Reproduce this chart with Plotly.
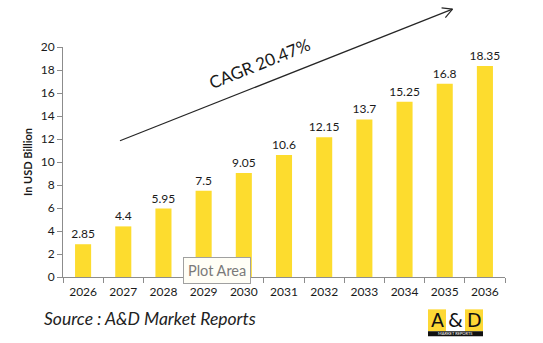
import plotly.graph_objects as go
import math

years = ["2026", "2027", "2028", "2029", "2030", "2031", "2032", "2033", "2034", "2035", "2036"]
values = [2.85, 4.4, 5.95, 7.5, 9.05, 10.6, 12.15, 13.7, 15.25, 16.8, 18.35]
labels = ["2.85", "4.4", "5.95", "7.5", "9.05", "10.6", "12.15", "13.7", "15.25", "16.8", "18.35"]

W, H = 543, 343
L, R, T, B = 63, 38, 46.5, 65.5
PW, PH = W - L - R, H - T - B
FONT = "Lato, Open Sans, sans-serif"
YELLOW = "#FDDC2E"
AXIS = "#8c8c8c"


def px(x):
    return (x - L) / PW


def py(y):
    return (H - B - y) / PH


fig = go.Figure()
fig.add_trace(go.Bar(
    x=years, y=values, text=labels, textposition="outside", constraintext="none",
    textfont=dict(family=FONT, size=12, color="#1a1a1a"),
    marker=dict(color=YELLOW, line=dict(width=0)),
    cliponaxis=False, hoverinfo="skip",
))

shapes = []
# arrow
x0, y0, x1, y1 = 120, 140.7, 452.5, 8.5
shapes.append(dict(type="line", xref="paper", yref="paper", x0=px(x0), y0=py(y0), x1=px(x1), y1=py(y1),
                   line=dict(color="#262626", width=1.2)))
dx, dy = x0 - x1, y0 - y1
d = math.hypot(dx, dy)
ux, uy = dx / d, dy / d
for s in (1, -1):
    a = math.radians(28 * s)
    wx = ux * math.cos(a) - uy * math.sin(a)
    wy = ux * math.sin(a) + uy * math.cos(a)
    shapes.append(dict(type="line", xref="paper", yref="paper", x0=px(x1), y0=py(y1),
                       x1=px(x1 + 11 * wx), y1=py(y1 + 11 * wy), line=dict(color="#262626", width=1.2)))

# logo
lx0, lx1, ly0, ly1 = 428, 483, 310, 337
shapes.append(dict(type="rect", xref="paper", yref="paper", x0=px(lx0), x1=px(lx0 + 18), y0=py(ly0), y1=py(ly1 - 5),
                   fillcolor="#FDD835", line=dict(width=0), layer="below"))
shapes.append(dict(type="rect", xref="paper", yref="paper", x0=px(lx1 - 18), x1=px(lx1), y0=py(ly0), y1=py(ly1 - 5),
                   fillcolor="#FDD835", line=dict(width=0), layer="below"))
shapes.append(dict(type="rect", xref="paper", yref="paper", x0=px(lx0), x1=px(lx1), y0=py(ly1 - 5), y1=py(ly1),
                   fillcolor="#111111", line=dict(width=0), layer="below"))


def ann(text, x, y, font, **kw):
    d = dict(text=text, xref="paper", yref="paper", x=px(x), y=py(y), showarrow=False,
             xanchor="center", yanchor="middle", font=font)
    d.update(kw)
    return d


annotations = [
    ann("CAGR 20.47%", 259, 63, dict(family=FONT, size=17, color="#1a1a1a"), textangle=-21.7),
    ann("Source : A&D Market Reports", 42, 319, dict(family=FONT, size=17.5, color="#222222", style="italic"),
        xanchor="left"),
    ann("Plot Area", 217, 270.5, dict(family=FONT, size=14.5, color="#7a7a7a"),
        bgcolor="#FFFEF6", bordercolor="#a0a0a0", borderwidth=1, borderpad=4),
    ann("A", lx0 + 9, ly0 + 11, dict(family="DejaVu Sans", size=19, color="#111111")),
    ann("&", (lx0 + lx1) / 2, ly0 + 11, dict(family="DejaVu Sans", size=19, color="#111111")),
    ann("D", lx1 - 9, ly0 + 11, dict(family="DejaVu Sans", size=19, color="#111111")),
    ann("MARKET REPORTS", (lx0 + lx1) / 2, ly1 - 2.5, dict(family=FONT, size=4, color="#ffffff")),
]

fig.update_layout(
    width=W, height=H, margin=dict(l=L, r=R, t=T, b=B, autoexpand=False),
    paper_bgcolor="white", plot_bgcolor="white",
    bargap=0.6, showlegend=False,
    font=dict(family=FONT, size=12, color="#1a1a1a"),
    shapes=shapes, annotations=annotations,
    xaxis=dict(type="category", showline=True, linecolor=AXIS, linewidth=1, ticks="outside",
               tickson="boundaries", ticklen=5, tickcolor=AXIS, showgrid=False, ticklabelstandoff=4,
               tickfont=dict(family=FONT, size=12, color="#1a1a1a")),
    yaxis=dict(range=[0, 20], dtick=2, showline=True, linecolor=AXIS, linewidth=1, ticks="outside",
               ticklen=5, tickcolor=AXIS, showgrid=False, zeroline=False,
               tickfont=dict(family=FONT, size=12, color="#1a1a1a"),
               title=dict(text="<b>In USD Billion</b>", font=dict(family=FONT, size=11, color="#1a1a1a"),
                          standoff=5)),
)

fig.write_html("out.html")
